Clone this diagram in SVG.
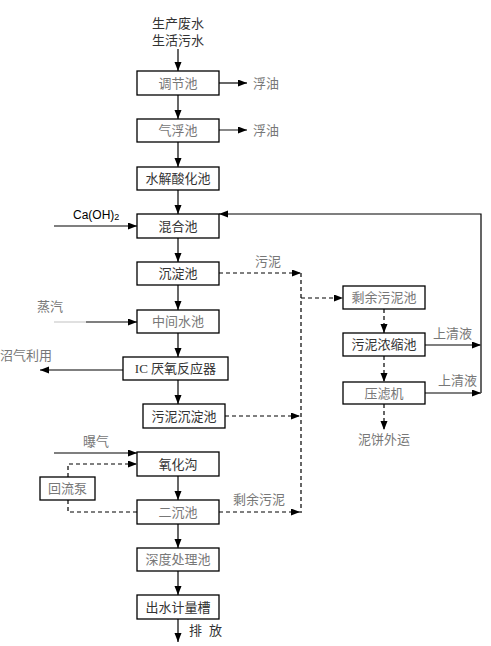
<svg xmlns="http://www.w3.org/2000/svg" width="491" height="646" viewBox="0 0 491 646">
<style>
.box{fill:#fff;stroke:#000;stroke-width:1.3}
.t{font-family:"Liberation Serif","Noto Sans CJK SC",serif;font-size:13px;fill:#333}
.g{fill:#777}
.c{text-anchor:middle}
.ln{fill:none;stroke:#000;stroke-width:1.2}
.gl{fill:none;stroke:#555;stroke-width:1.4}
.d{fill:none;stroke:#000;stroke-width:1.2;stroke-dasharray:4,3}
</style>
<defs>
<marker id="a" markerUnits="userSpaceOnUse" markerWidth="10" markerHeight="8" refX="9" refY="3.5" orient="auto"><path d="M0,0 L9,3.5 L0,7 z" fill="#000"/></marker>
</defs>
<rect width="491" height="646" fill="#fff"/>
<g id="connectors">
<path class="ln" marker-end="url(#a)" d="M178,49 V71"/>
<path class="ln" marker-end="url(#a)" d="M178,95 V119"/>
<path class="ln" marker-end="url(#a)" d="M178,142 V167"/>
<path class="ln" marker-end="url(#a)" d="M178,190 V214"/>
<path class="ln" marker-end="url(#a)" d="M178,238 V262"/>
<path class="ln" marker-end="url(#a)" d="M178,285 V310"/>
<path class="ln" marker-end="url(#a)" d="M178,333 V357"/>
<path class="ln" marker-end="url(#a)" d="M178,380 V404"/>
<path class="ln" marker-end="url(#a)" d="M178,476 V500"/>
<path class="ln" marker-end="url(#a)" d="M178,524 V548"/>
<path class="ln" marker-end="url(#a)" d="M178,571 V595"/>
<path class="ln" marker-end="url(#a)" d="M178,619 V642"/>
<path class="ln" marker-end="url(#a)" d="M219,83 H247"/>
<path class="gl" marker-end="url(#a)" d="M219,130 H247"/>
<path class="ln" marker-end="url(#a)" d="M54,226 H137"/>
<path fill="none" stroke="#ccc" stroke-width="1.2" d="M54,322 H86"/>
<path class="ln" marker-end="url(#a)" d="M86,322 H137"/>
<path class="ln" marker-end="url(#a)" d="M123,370 H40"/>
<path class="gl" marker-end="url(#a)" d="M54,453 H137"/>
<path class="ln" marker-end="url(#a)" d="M481,393 V214 H219"/>
<path class="gl" marker-end="url(#a)" d="M425,345 H481"/>
<path class="gl" marker-end="url(#a)" d="M425,393 H481"/>
<path class="d" marker-end="url(#a)" d="M219,273 H301"/>
<path class="d" d="M301,273 V513"/>
<path class="d" marker-end="url(#a)" d="M301,298 H343"/>
<path class="d" marker-end="url(#a)" d="M225,416 H300"/>
<path class="d" marker-end="url(#a)" d="M219,512 H300"/>
<path class="d" marker-end="url(#a)" d="M384,309 V333"/>
<path class="d" marker-end="url(#a)" d="M384,356 V382"/>
<path class="d" marker-end="url(#a)" d="M384,404 V430"/>
<path class="d" marker-end="url(#a)" d="M68,477 V464 H137"/>
<path class="d" d="M137,512 H68 V500"/>
</g>
<g id="n-tiaojie"><rect class="box" x="137" y="71" width="82" height="24"/><text class="t g c" x="178" y="87.5">调节池</text></g>
<g id="n-qifu"><rect class="box" x="137" y="119" width="82" height="23"/><text class="t g c" x="178" y="135">气浮池</text></g>
<g id="n-shuijie"><rect class="box" x="137" y="167" width="82" height="23"/><text class="t c" x="178" y="183">水解酸化池</text></g>
<g id="n-hunhe"><rect class="box" x="137" y="214" width="82" height="24"/><text class="t c" x="178" y="230.5">混合池</text></g>
<g id="n-chendian"><rect class="box" x="137" y="262" width="82" height="23"/><text class="t c" x="178" y="278">沉淀池</text></g>
<g id="n-zhongjian"><rect class="box" x="137" y="310" width="82" height="23"/><text class="t g c" x="178" y="326">中间水池</text></g>
<g id="n-ic"><rect class="box" x="123" y="357" width="105" height="23"/><text class="t c" x="175.5" y="373">IC 厌氧反应器</text></g>
<g id="n-wunichendian"><rect class="box" x="143" y="404" width="82" height="24"/><text class="t c" x="184" y="420.5">污泥沉淀池</text></g>
<g id="n-yanghua"><rect class="box" x="137" y="452" width="82" height="24"/><text class="t c" x="178" y="468.5">氧化沟</text></g>
<g id="n-erchen"><rect class="box" x="137" y="500" width="82" height="24"/><text class="t g c" x="178" y="516.5">二沉池</text></g>
<g id="n-shendu"><rect class="box" x="137" y="548" width="82" height="23"/><text class="t g c" x="178" y="564">深度处理池</text></g>
<g id="n-chushui"><rect class="box" x="137" y="595" width="82" height="24"/><text class="t c" x="178" y="611.5">出水计量槽</text></g>
<g id="n-huiliu"><rect class="box" x="40" y="477" width="55" height="23"/><text class="t g c" x="67.5" y="493">回流泵</text></g>
<g id="n-shengyu"><rect class="box" x="343" y="286" width="82" height="23"/><text class="t g c" x="384" y="302">剩余污泥池</text></g>
<g id="n-nongsuo"><rect class="box" x="343" y="333" width="82" height="23"/><text class="t c" x="384" y="349">污泥浓缩池</text></g>
<g id="n-yalv"><rect class="box" x="343" y="382" width="82" height="22"/><text class="t g c" x="384" y="397.5">压滤机</text></g>
<g id="labels">
<text class="t c" x="178" y="28">生产废水</text>
<text class="t c" x="178" y="45">生活污水</text>
<text class="t g" x="253" y="88">浮油</text>
<text class="t g" x="253" y="135">浮油</text>
<text font-family="Liberation Sans,Arial,sans-serif" font-size="12" fill="#000" x="73" y="219">Ca(OH)<tspan font-size="9" dy="1">2</tspan></text>
<text class="t g" x="255" y="266">污泥</text>
<text class="t g" x="37" y="311">蒸汽</text>
<text class="t g" x="0" y="360">沼气利用</text>
<text class="t g" x="83" y="446">曝气</text>
<text class="t g" x="233" y="504">剩余污泥</text>
<text class="t g" x="433" y="338">上清液</text>
<text class="t g" x="438" y="385">上清液</text>
<text class="t g" x="358" y="444">泥饼外运</text>
<text class="t" x="189" y="635" fill="#222" letter-spacing="7">排放</text>
</g>
</svg>
